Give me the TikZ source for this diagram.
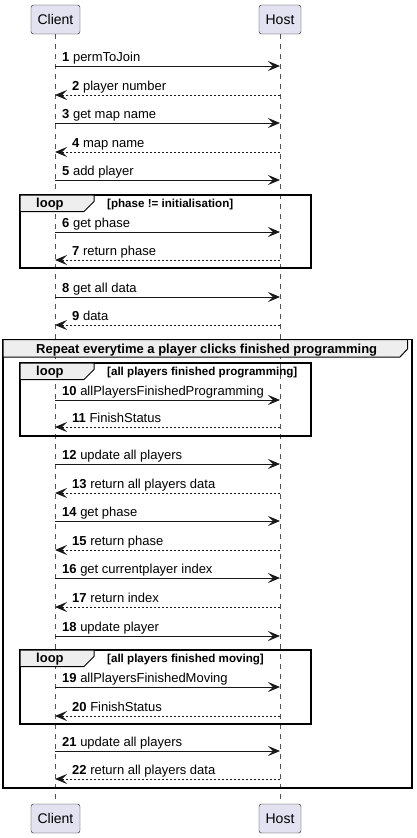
\documentclass[tikz,border=0pt]{standalone}
\usepackage{fontspec}
\setmainfont{Liberation Sans}
\usetikzlibrary{arrows.meta}
\definecolor{actorfill}{HTML}{E2E2F0}
\definecolor{headfill}{HTML}{EEEEEE}
\definecolor{umlline}{HTML}{181818}
\tikzset{
  actorbox/.style={draw=umlline,fill=actorfill,rounded corners=2.5pt,minimum height=29pt,inner sep=0pt,font=\fontsize{14}{16}\selectfont},
  lifeline/.style={draw=umlline!75,line width=0.6pt,dash pattern=on 5pt off 5pt},
  callmsg/.style={draw=umlline,line width=1pt,-{Stealth[length=12pt,width=10pt,inset=5pt]}},
  returnmsg/.style={callmsg,dash pattern=on 2pt off 2pt},
  msglabel/.style={anchor=base west,inner sep=0pt,font=\fontsize{13}{15}\selectfont},
  frame/.style={draw=black,line width=1.5pt},
  framehead/.style={draw=black,line width=1pt,fill=headfill},
  framelabel/.style={anchor=base west,inner sep=0pt,font=\bfseries\fontsize{13}{15}\selectfont},
  guardlabel/.style={anchor=base west,inner sep=0pt,font=\bfseries\fontsize{11.6}{13}\selectfont}
}
\begin{document}
\begin{tikzpicture}[x=1pt,y=-1pt]
  \useasboundingbox (0,0) rectangle (416,838);
  \node[actorbox,minimum width=49pt] (client) at (55.5,19.5) {Client};
  \node[actorbox,minimum width=42pt] (host) at (280,19.5) {Host};
  \node[actorbox,minimum width=49pt] (clientend) at (55.5,818.5) {Client};
  \node[actorbox,minimum width=42pt] (hostend) at (280,818.5) {Host};
  \draw[lifeline] (client) -- (clientend);
  \draw[lifeline] (host) -- (hostend);
  \draw[frame] (3,339.5) rectangle (412,788);
  \draw[framehead] (3,339.5) -- (407.5,339.5) -- (407.5,349) -- (400,357) -- (3,357) -- cycle;
  \node[framelabel] (repeatlbl) at (36,353.5) {Repeat everytime a player clicks finished programming};
  \foreach \t/\b/\g in {195/268/phase != initialisation,363/436/all players finished programming,650/724/all players finished moving}{
    \draw[frame] (20,\t) rectangle (311,\b);
    \draw[framehead] (20,\t) -- (94,\t) -- (94,\t+6.5) -- (84,\t+16.5) -- (20,\t+16.5) -- cycle;
    \node[framelabel] at (36,\t+12.5) {loop};
    \node[guardlabel] at (107,\t+12) {[\g]};
  }
  \foreach \n/\y/\txt in {1/66/permToJoin,3/123/get map name,5/180/add player,6/232/get phase,8/297/get all data,10/400/allPlayersFinishedProgramming,12/464/update all players,14/521/get phase,16/578/get currentplayer index,18/636/update player,19/687/allPlayersFinishedMoving,21/751/update all players}{
    \coordinate (c\n) at (55,\y);
    \coordinate (h\n) at (280,\y);
    \draw[callmsg] (c\n) -- (h\n);
    \node[msglabel] (lbl\n) at (62,\y-4.5) {\textbf{\n} \txt};
  }
  \foreach \n/\y/\txt in {2/95/player number,4/152/map name,7/260/return phase,9/325/data,11/427/FinishStatus,13/493/return all players data,15/550/return phase,17/607/return index,20/716/FinishStatus,22/779/return all players data}{
    \coordinate (c\n) at (55,\y);
    \coordinate (h\n) at (280,\y);
    \draw[returnmsg] (h\n) -- (c\n);
    \node[msglabel] (lbl\n) at (72,\y-4.5) {\textbf{\n} \txt};
  }
\end{tikzpicture}
\end{document}
